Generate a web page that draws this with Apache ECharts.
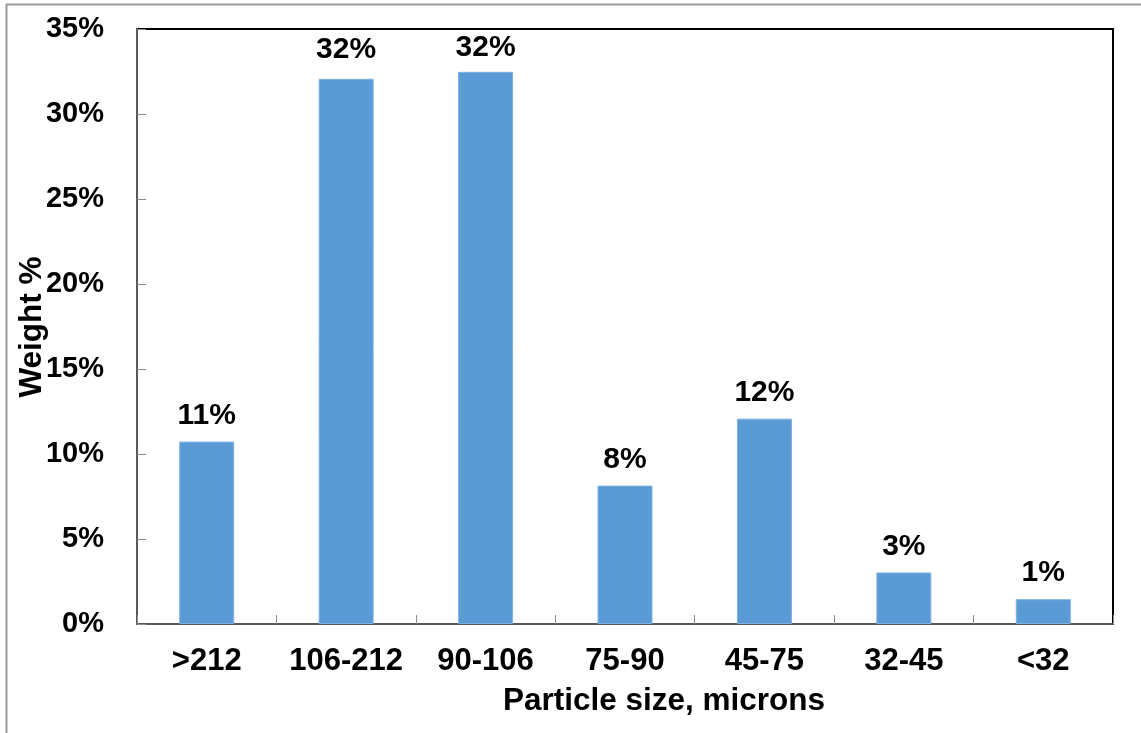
<!DOCTYPE html>
<html>
<head>
<meta charset="utf-8">
<title>Particle size distribution</title>
<script src="https://cdn.jsdelivr.net/npm/echarts@6/dist/echarts.min.js"></script>
<style>
  html, body { margin: 0; padding: 0; background: #fff; }
  #chart { width: 1141px; height: 733px; }
</style>
</head>
<body>
<div id="chart"></div>
<script>
// Particle size classes (microns) and weight fraction in each, in percent
const sizeClasses = ['>212', '106-212', '90-106', '75-90', '45-75', '32-45', '<32'];
const weightPct = [10.73, 32.07, 32.48, 8.14, 12.08, 3.03, 1.46];
const yTicks = { min: 0, max: 35, step: 5 };

const FONT = "'Liberation Sans', Arial, Helvetica, sans-serif";

const chart = echarts.init(document.getElementById('chart'));

chart.setOption({
  backgroundColor: '#ffffff',
  animation: false,
  grid: {
    left: 137, right: 28, top: 29, bottom: 109,
    outerBoundsMode: 'none',
    containLabel: false,
    show: true,
    borderColor: '#000000',
    borderWidth: 2
  },
  xAxis: {
    type: 'category',
    data: sizeClasses,
    axisLine: { show: true, lineStyle: { color: '#595959', width: 2 } },
    axisTick: { show: true, inside: true, length: 9, alignWithLabel: false,
                lineStyle: { color: '#8c8c8c', width: 1 } },
    axisLabel: { interval: 0, hideOverlap: false, color: '#000', fontFamily: FONT,
                 fontWeight: 'bold', fontSize: 31, margin: 22 },
    splitLine: { show: false }
  },
  yAxis: {
    type: 'value',
    min: yTicks.min, max: yTicks.max, interval: yTicks.step,
    axisLine: { show: true, lineStyle: { color: '#595959', width: 2 } },
    axisTick: { show: true, inside: true, length: 9, lineStyle: { color: '#8c8c8c', width: 1 } },
    axisLabel: { color: '#000', fontFamily: FONT, fontWeight: 'bold', fontSize: 29, margin: 33,
                 formatter: '{value}%' },
    splitLine: { show: false }
  },
  graphic: [
    // outer frame (top and left edges)
    { type: 'polyline', silent: true, z: 100,
      shape: { points: [[6.5, 740], [6.5, 4.5], [1150, 4.5]] },
      style: { stroke: '#9a9a9a', lineWidth: 2, fill: null } },
    // y-axis title, rotated
    { type: 'text', x: 32, y: 327, rotation: Math.PI / 2, silent: true,
      style: { text: 'Weight %', fill: '#000', fontFamily: FONT,
               fontWeight: 'bold', fontSize: 31.5, textAlign: 'center', textVerticalAlign: 'middle' } },
    // x-axis title
    { type: 'text', x: 664, y: 701, silent: true,
      style: { text: 'Particle size, microns', fill: '#000', fontFamily: FONT,
               fontWeight: 'bold', fontSize: 31.5, textAlign: 'center', textVerticalAlign: 'middle' } }
  ],
  series: [{
    type: 'bar',
    data: weightPct.map((v, i) => i === 1
      ? { value: v, label: { distance: 14 } }
      : i === 2 ? { value: v, label: { distance: 9 } } : v),
    barWidth: 55,
    itemStyle: { color: '#5b9bd5', borderColor: '#7fb2e0', borderWidth: 1 },
    label: {
      show: true,
      position: 'top',
      distance: 11,
      color: '#000',
      fontFamily: FONT,
      fontWeight: 'bold',
      fontSize: 30,
      formatter: p => Math.round(p.value) + '%'
    }
  }]
});
</script>
</body>
</html>
